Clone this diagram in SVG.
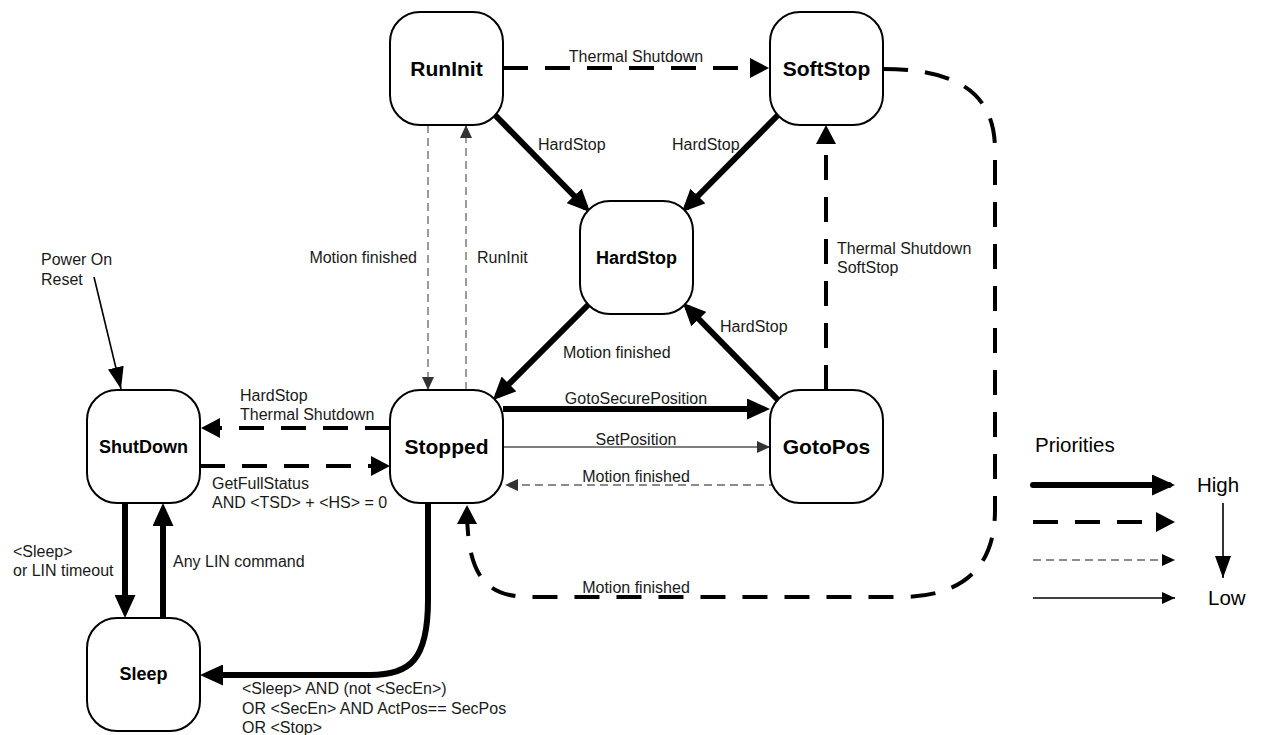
<svg xmlns="http://www.w3.org/2000/svg" width="1261" height="735" viewBox="0 0 1261 735">
<style>
.node{fill:#fff;stroke:#000;stroke-width:2}
.nl{font-family:"Liberation Sans",Arial,sans-serif;font-weight:bold;text-anchor:middle;fill:#000}
.big{font-size:21px}
.sm{font-size:18px}
.lbl{font-family:"Liberation Sans",Arial,sans-serif;font-size:16px;fill:#1a1a1a}
.mid{text-anchor:middle}
.end{text-anchor:end}
.leg{font-family:"Liberation Sans",Arial,sans-serif;font-size:20.5px;fill:#000}
.thick{fill:none;stroke:#000;stroke-width:6}
.dash{fill:none;stroke:#000;stroke-width:4;stroke-dasharray:25,17}
.tdash{fill:none;stroke:#666;stroke-width:1.3;stroke-dasharray:8,5}
.thin{fill:none;stroke:#555;stroke-width:1.5}
.thinb{fill:none;stroke:#000;stroke-width:1.6}
</style>
<defs>
<marker id="aThick" markerUnits="userSpaceOnUse" markerWidth="23" markerHeight="21" refX="17" refY="10.5" orient="auto"><path d="M0,0 L23,10.5 L0,21 z" fill="#000"/></marker>
<marker id="aDash" markerUnits="userSpaceOnUse" markerWidth="19" markerHeight="20" refX="15" refY="10" orient="auto"><path d="M0,0 L19,10 L0,20 z" fill="#000"/></marker>
<marker id="aThinG" markerUnits="userSpaceOnUse" markerWidth="13" markerHeight="12" refX="13" refY="6" orient="auto"><path d="M0,0 L13,6 L0,12 z" fill="#333"/></marker>
<marker id="aThin" markerUnits="userSpaceOnUse" markerWidth="13" markerHeight="12" refX="13" refY="6" orient="auto"><path d="M0,0 L13,6 L0,12 z" fill="#000"/></marker>
<marker id="aPow" markerUnits="userSpaceOnUse" markerWidth="22" markerHeight="16" refX="22" refY="8" orient="auto"><path d="M0,0 L22,8 L0,16 z" fill="#000"/></marker>
</defs>

<g id="connectors">
<path class="dash" d="M503,68 L765,68" marker-end="url(#aDash)"/>
<path class="thick" d="M493,113 L586,208" marker-end="url(#aThick)"/>
<path class="thick" d="M780,113 L686,208" marker-end="url(#aThick)"/>
<path class="thick" d="M590,303 L497,396" marker-end="url(#aThick)"/>
<path class="thick" d="M780,402 L687,307" marker-end="url(#aThick)"/>
<path class="thick" d="M503,409 L764,409" marker-end="url(#aThick)"/>
<path class="thin" d="M503,447 L770,447" marker-end="url(#aThinG)"/>
<path class="tdash" d="M777,485 L505,485" marker-end="url(#aThinG)"/>
<path class="dash" d="M826,390 L826,129" marker-end="url(#aDash)"/>
<path class="dash" d="M883,69 C960,69 995,95 995,150 L995,510 C995,570 960,597 900,597 L530,597 C485,597 467,575 467,509" marker-end="url(#aDash)"/>
<path class="dash" d="M390,428 L205,428" marker-end="url(#aDash)"/>
<path class="dash" d="M200,466 L386,466" marker-end="url(#aDash)"/>
<path class="thinb" d="M94,277 L121,389" marker-end="url(#aPow)"/>
<path class="thick" d="M125,503 L125,612" marker-end="url(#aThick)"/>
<path class="thick" d="M163,618 L163,509" marker-end="url(#aThick)"/>
<path class="thick" d="M428,503 L428,600 C428,660 410,675 370,675 L206,675" marker-end="url(#aThick)"/>
<path class="tdash" d="M428,125 L428,390" marker-end="url(#aThinG)"/>
<path class="tdash" d="M466,390 L466,125" marker-end="url(#aThinG)"/>

<text class="lbl mid" x="636" y="62">Thermal Shutdown</text>
<text class="lbl" x="538" y="150">HardStop</text>
<text class="lbl" x="672" y="150">HardStop</text>
<text class="lbl" x="563" y="358">Motion finished</text>
<text class="lbl" x="720" y="332">HardStop</text>
<text class="lbl mid" x="636" y="404">GotoSecurePosition</text>
<text class="lbl mid" x="636" y="445">SetPosition</text>
<text class="lbl mid" x="636" y="482">Motion finished</text>
<text class="lbl mid" x="636" y="593">Motion finished</text>
<text class="lbl" x="837" y="254">Thermal Shutdown</text>
<text class="lbl" x="837" y="273">SoftStop</text>
<text class="lbl end" x="417" y="263">Motion finished</text>
<text class="lbl" x="477" y="263">RunInit</text>
<text class="lbl" x="41" y="265">Power On</text>
<text class="lbl" x="41" y="285">Reset</text>
<text class="lbl" x="240" y="401">HardStop</text>
<text class="lbl" x="240" y="420">Thermal Shutdown</text>
<text class="lbl" x="212" y="489">GetFullStatus</text>
<text class="lbl" x="212" y="508">AND &lt;TSD&gt; + &lt;HS&gt; = 0</text>
<text class="lbl" x="13" y="557">&lt;Sleep&gt;</text>
<text class="lbl" x="13" y="576">or LIN timeout</text>
<text class="lbl" x="173" y="567">Any LIN command</text>
<text class="lbl" x="242" y="694">&lt;Sleep&gt; AND (not &lt;SecEn&gt;)</text>
<text class="lbl" x="242" y="714">OR &lt;SecEn&gt; AND ActPos== SecPos</text>
<text class="lbl" x="242" y="733">OR &lt;Stop&gt;</text>
</g>

<g id="RunInit"><rect class="node" x="390" y="12" width="113" height="113" rx="30"/><text class="nl big" x="446.5" y="76">RunInit</text></g>
<g id="SoftStop"><rect class="node" x="770" y="12" width="113" height="113" rx="30"/><text class="nl big" x="826.5" y="76">SoftStop</text></g>
<g id="HardStop"><rect class="node" x="580" y="201" width="113" height="113" rx="30"/><text class="nl sm" x="636.5" y="264">HardStop</text></g>
<g id="Stopped"><rect class="node" x="390" y="390" width="113" height="113" rx="30"/><text class="nl big" x="446.5" y="454">Stopped</text></g>
<g id="ShutDown"><rect class="node" x="87" y="390" width="113" height="113" rx="30"/><text class="nl sm" x="143.5" y="453">ShutDown</text></g>
<g id="GotoPos"><rect class="node" x="770" y="390" width="113" height="113" rx="30"/><text class="nl big" x="826.5" y="454">GotoPos</text></g>
<g id="Sleep"><rect class="node" x="87" y="618" width="113" height="113" rx="30"/><text class="nl sm" x="143.5" y="680">Sleep</text></g>

<g id="legend">
<text class="leg" x="1035" y="452">Priorities</text>
<path class="thick" d="M1033,485 L1169,485" stroke-linecap="round" marker-end="url(#aThick)"/>
<path class="dash" d="M1033,522 L1171,522" marker-end="url(#aDash)"/>
<path class="tdash" d="M1033,560 L1175,560" stroke="#444" marker-end="url(#aThin)"/>
<path class="thinb" d="M1033,598 L1175,598" stroke-width="1.3" marker-end="url(#aThin)"/>
<path class="thinb" d="M1223,503 L1223,578" marker-end="url(#aPow)"/>
<text class="leg" x="1197" y="492">High</text>
<text class="leg" x="1208" y="605">Low</text>
</g>
</svg>
